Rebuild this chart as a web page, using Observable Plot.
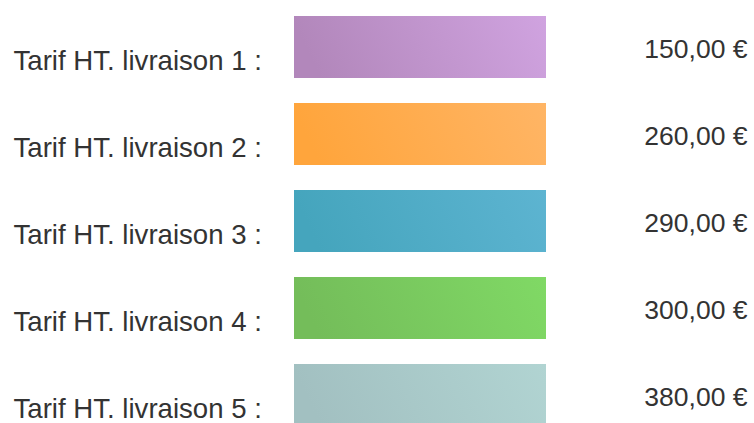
<!DOCTYPE html>
<html>
<head>
<meta charset="utf-8">
<script src="https://cdn.jsdelivr.net/npm/d3@7"></script>
<script src="https://cdn.jsdelivr.net/npm/@observablehq/plot@0.6"></script>
<style>
  html, body { margin: 0; padding: 0; background: #fff; }
  #chart svg { display: block; overflow: hidden; }
</style>
</head>
<body>
<div id="chart"></div>
<script>
const labels = [
  "Tarif HT. livraison 1 :",
  "Tarif HT. livraison 2 :",
  "Tarif HT. livraison 3 :",
  "Tarif HT. livraison 4 :",
  "Tarif HT. livraison 5 :"
];
const values = [150, 260, 290, 300, 380];
const valueLabels = ["150,00 €", "260,00 €", "290,00 €", "300,00 €", "380,00 €"];
const startColors = ["#b287bb", "#ffa53c", "#45a5bd", "#74bd5a", "#a2c0c1"];
const endColors   = ["#d0a3e0", "#ffb565", "#5db4d1", "#80d965", "#b1d4d2"];

const data = labels.map((label, i) => ({
  label,
  value: values[i],
  text: valueLabels[i],
  fill: `url(#grad${i})`
}));

const font = "'Liberation Sans', Arial, Helvetica, sans-serif";

const plot = Plot.plot({
  width: 754,
  height: 423,
  marginLeft: 294,
  marginRight: 208,
  marginTop: 0,
  marginBottom: 0,
  style: { fontFamily: font, background: "#fff", overflow: "hidden" },
  x: { domain: [0, 1], axis: null },
  y: { domain: labels, range: [-10.25, 451.25], padding: 0.2894, axis: null },
  color: { type: "identity" },
  marks: [
    Plot.barX(data, { y: "label", x1: () => 0, x2: () => 1, fill: "fill" }),
    Plot.text(data, {
      y: "label", text: "label", frameAnchor: "left", textAnchor: "start",
      dx: -281, dy: 13.5, fontSize: 27.6, fill: "#333"
    }),
    Plot.text(data, {
      y: "label", text: "text", frameAnchor: "right", textAnchor: "end",
      dx: 201, dy: 2, fontSize: 26.5, fill: "#333"
    })
  ]
});

const svg = d3.select(plot);
const defs = svg.insert("defs", ":first-child");
startColors.forEach((c, i) => {
  const g = defs.append("linearGradient")
    .attr("id", `grad${i}`)
    .attr("x1", "0").attr("y1", "0.12").attr("x2", "1").attr("y2", "0");
  g.append("stop").attr("offset", "0%").attr("stop-color", c);
  g.append("stop").attr("offset", "100%").attr("stop-color", endColors[i]);
});

document.getElementById("chart").appendChild(plot);
</script>
</body>
</html>
